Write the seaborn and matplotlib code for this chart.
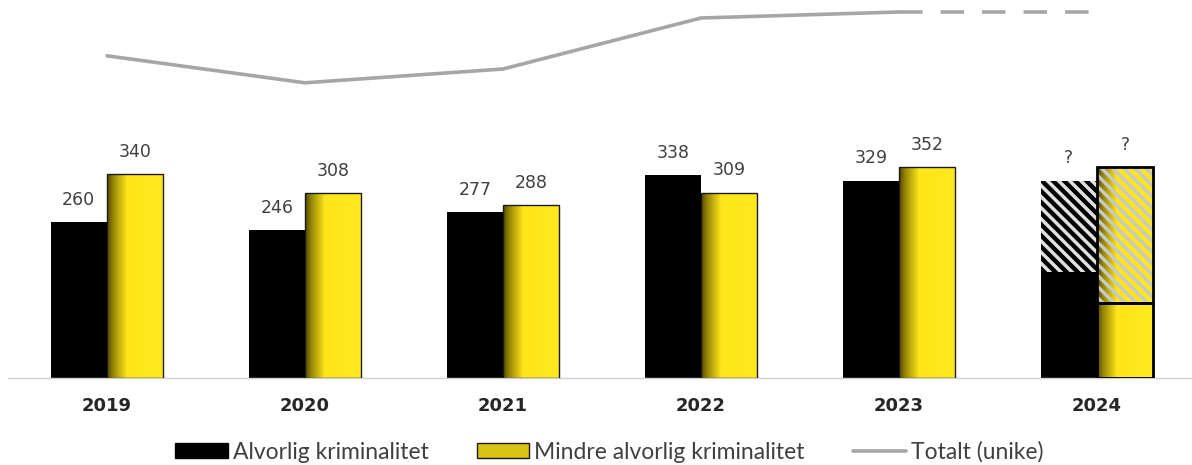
import numpy as np
import pandas as pd
import seaborn as sns
import matplotlib.pyplot as plt
from matplotlib.patches import Patch
from matplotlib.lines import Line2D

# Data
years = ["2019", "2020", "2021", "2022", "2023", "2024"]
alvorlig = [260, 246, 277, 338, 329, 177]        # 2024: registrert hittil
mindre = [340, 308, 288, 309, 352, 125]          # 2024: registrert hittil
alvorlig_anslag_2024 = 329                       # hatched top for 2024
mindre_anslag_2024 = 352
totalt = [537, 492, 515, 600, 610]               # 2019-2023
totalt_anslag_2024 = 610

svart = "#000000"
gul = "#FFE61E"
graa = "#A6A6A6"
tekst = "#404040"
hovedfont = "DejaVu Sans"

df = pd.DataFrame({
    "År": years * 2,
    "Antall": alvorlig + mindre,
    "Type": ["Alvorlig kriminalitet"] * 6 + ["Mindre alvorlig kriminalitet"] * 6,
})

sns.set_theme(style="white")
plt.rcParams["font.family"] = [hovedfont]
plt.rcParams["hatch.linewidth"] = 2.5

fig = plt.figure(figsize=(11.92, 4.65), dpi=100)
ax = fig.add_axes([8 / 1192, 87 / 465, 1188 / 1192, 378 / 465])

sns.barplot(data=df, x="År", y="Antall", hue="Type",
            palette=[svart, gul], width=0.57, gap=0, saturation=1,
            edgecolor="none", linewidth=0, legend=False, ax=ax)

svarte = list(ax.containers[0])
gule = list(ax.containers[1])


def gradient_fill(x0, y0, w, h, clip):
    # dark olive shading on the left side of the yellow bars
    pos = np.linspace(0, 1, 60)
    stops = [0, 0.1, 0.35, 1]
    r = np.interp(pos, stops, [0.33, 0.58, 1.0, 1.0])
    g = np.interp(pos, stops, [0.29, 0.52, 0.90, 0.91])
    b = np.interp(pos, stops, [0.00, 0.02, 0.10, 0.12])
    img = np.dstack([r, g, b]).reshape(1, -1, 3)
    im = ax.imshow(img, extent=[x0, x0 + w, y0, y0 + h], aspect="auto",
                   interpolation="bilinear", zorder=2.5)
    im.set_clip_path(clip)


for p in gule:
    gradient_fill(p.get_x(), p.get_y(), p.get_width(), p.get_height(), p)
    ax.bar(p.get_x(), p.get_height(), width=p.get_width(), align="edge",
           fill=False, edgecolor="#1a1a1a", linewidth=1.0, zorder=3)

# 2024: estimated part, hatched
bs = svarte[5]
ys = gule[5]
ax.bar(bs.get_x(), alvorlig_anslag_2024 - alvorlig[5], bottom=alvorlig[5],
       width=bs.get_width(), align="edge", facecolor=svart,
       edgecolor="#e0e0e0", hatch="\\\\\\", linewidth=0, zorder=2)
hb = ax.bar(ys.get_x(), mindre_anslag_2024 - mindre[5], bottom=mindre[5],
            width=ys.get_width(), align="edge", facecolor=gul,
            edgecolor="none", linewidth=0, zorder=2)[0]
gradient_fill(hb.get_x(), hb.get_y(), hb.get_width(), hb.get_height(), hb)
ax.bar(ys.get_x(), mindre_anslag_2024 - mindre[5], bottom=mindre[5],
       width=ys.get_width(), align="edge", fill=False,
       edgecolor="#c8c8c8", hatch="\\\\\\", linewidth=0, zorder=2.7)
ax.bar(ys.get_x(), mindre_anslag_2024 - mindre[5], bottom=mindre[5],
       width=ys.get_width(), align="edge", fill=False,
       edgecolor=svart, linewidth=2.0, zorder=3)
ax.bar(ys.get_x(), mindre[5], width=ys.get_width(), align="edge",
       fill=False, edgecolor=svart, linewidth=2.0, zorder=3.1)

# value labels
for i in range(5):
    b = svarte[i]
    ax.text(b.get_x() + b.get_width() / 2, alvorlig[i] + 22, str(alvorlig[i]),
            ha="center", va="bottom", fontsize=12.5, color=tekst,
            family=hovedfont)
    g = gule[i]
    ax.text(g.get_x() + g.get_width() / 2, mindre[i] + 22, str(mindre[i]),
            ha="center", va="bottom", fontsize=12.5, color=tekst,
            family=hovedfont)
ax.text(bs.get_x() + bs.get_width() / 2, alvorlig_anslag_2024 + 22, "?",
        ha="center", va="bottom", fontsize=12.5, color=tekst, family=hovedfont)
ax.text(ys.get_x() + ys.get_width() / 2, mindre_anslag_2024 + 22, "?",
        ha="center", va="bottom", fontsize=12.5, color=tekst, family=hovedfont)

# total line
ax.plot(range(5), totalt, color=graa, linewidth=2.6,
        solid_capstyle="round", zorder=4)
ax.plot([4, 5], [totalt[-1], totalt_anslag_2024], color=graa, linewidth=2.6,
        dashes=(6.5, 5), zorder=4)

ax.set_xlim(-0.5, 5.5)
ax.set_ylim(0, 630)
ax.set_xlabel("")
ax.set_ylabel("")
ax.set_yticks([])
for s in ["left", "right", "top"]:
    ax.spines[s].set_visible(False)
ax.spines["bottom"].set_color("#d0d0d0")
ax.spines["bottom"].set_linewidth(1.0)
ax.spines["bottom"].set_linestyle((0, (2, 1)))
ax.set_xticks(range(6))
ax.set_xticklabels(years, fontsize=13, fontweight="bold", color="#262626",
                   family=hovedfont)
ax.tick_params(axis="x", which="major", length=0, pad=14)
ax.set_xticks(np.arange(-0.5, 6, 1), minor=True)
ax.tick_params(axis="x", which="minor", length=6, color="#d0d0d0", width=1)

handles = [
    Patch(facecolor=svart, edgecolor=svart, label="Alvorlig kriminalitet"),
    Patch(facecolor="#D9C414", edgecolor="#1a1a1a", linewidth=1,
          label="Mindre alvorlig kriminalitet"),
    Line2D([0], [0], color=graa, linewidth=2.6, label="Totalt (unike)"),
]
fig.legend(handles=handles, loc="center", bbox_to_anchor=(0.511, 0.028),
           ncol=3, frameon=False, handlelength=2.3,
           handleheight=0.65, handletextpad=0.22, columnspacing=2.1,
           labelcolor=tekst, prop={"family": "Lato", "size": 16.5})

fig.savefig("out.png", dpi=100)
